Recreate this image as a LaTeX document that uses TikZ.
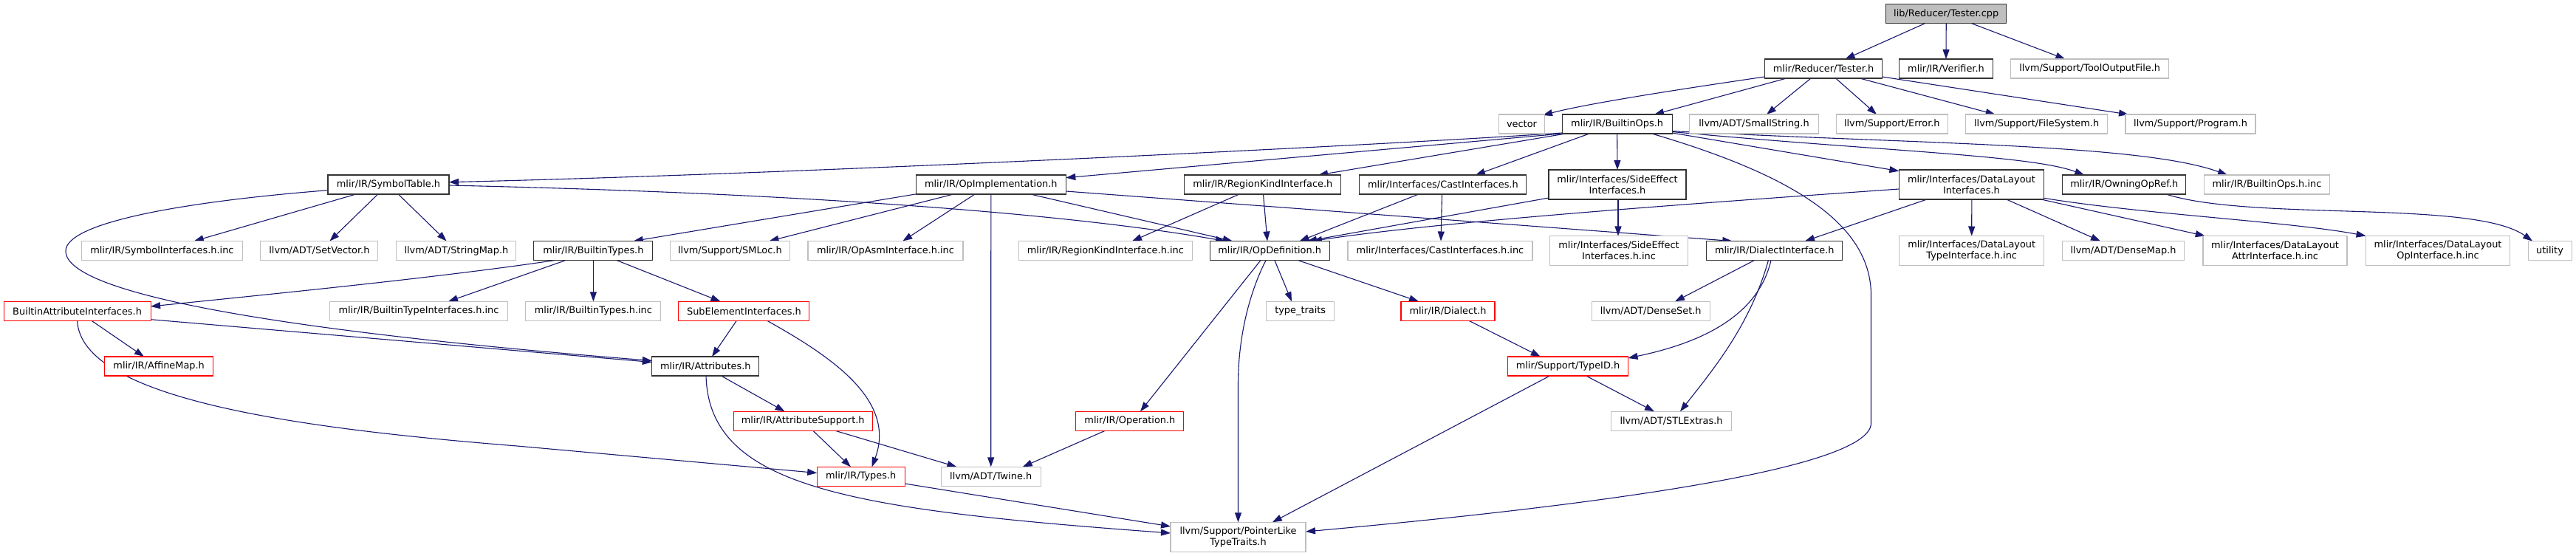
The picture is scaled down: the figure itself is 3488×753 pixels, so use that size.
\documentclass[tikz,border=0pt]{standalone}
\usepackage{fontspec}
\setmainfont{DejaVu Sans}
\usetikzlibrary{arrows.meta,calc}
\definecolor{edgecol}{HTML}{191970}
\definecolor{greyb}{HTML}{BFBFBF}
\definecolor{rootfill}{HTML}{BFBFBF}
\definecolor{boxline}{HTML}{333333}
\pgfdeclarelayer{bg}
\pgfsetlayers{bg,main}
\begin{document}
\begin{tikzpicture}[x=0.5pt,y=-0.5pt,
 box/.style={rectangle, draw=boxline, fill=white, inner sep=0pt, minimum height=13pt, line width=0.55pt, font=\fontsize{6.45}{7.5}\selectfont, align=center, text=black},
 gbox/.style={box, draw=greyb},
 rbox/.style={box, draw=red},
 root/.style={box, fill=rootfill, draw=boxline},
 tall/.style={minimum height=20pt},
 edge/.style={draw=edgecol, line width=0.55pt, -{Triangle[length=6.5pt,width=4.5pt]}}]
\useasboundingbox (0,0) rectangle (3488,753);
% nodes
\node[root, minimum width=81.5pt] (cpp) at (2635.2,18.5) {lib/Reducer/Tester.cpp};
\node[box, minimum width=79.5pt] (testerh) at (2469,93) {mlir/Reducer/Tester.h};
\node[box, minimum width=63.5pt] (verifier) at (2635,93) {mlir/IR/Verifier.h};
\node[gbox, minimum width=107pt] (toolout) at (2829.6,93) {llvm/Support/ToolOutputFile.h};
\node[gbox, minimum width=31pt] (vector) at (2060.5,168) {vector};
\node[box, minimum width=74.5pt] (builtinops) at (2189.6,168) {mlir/IR/BuiltinOps.h};
\node[gbox, minimum width=87.5pt] (smallstring) at (2375,168) {llvm/ADT/SmallString.h};
\node[gbox, minimum width=75.5pt] (error) at (2561.8,168) {llvm/Support/Error.h};
\node[gbox, minimum width=96pt] (filesystem) at (2757.6,168) {llvm/Support/FileSystem.h};
\node[gbox, minimum width=88pt] (program) at (2966,168) {llvm/Support/Program.h};
\node[box, minimum width=82pt] (symtab) at (526,250) {mlir/IR/SymbolTable.h};
\node[box, minimum width=101.5pt] (opimpl) at (1341.8,250) {mlir/IR/OpImplementation.h};
\node[box, minimum width=106pt] (regionkind) at (1709.8,250) {mlir/IR/RegionKindInterface.h};
\node[box, minimum width=113pt] (cast) at (1953.9,250) {mlir/Interfaces/CastInterfaces.h};
\node[box, tall, minimum width=93pt] (sideeffect) at (2190,250) {mlir/Interfaces/SideEffect\\Interfaces.h};
\node[box, tall, minimum width=98pt] (datalayout) at (2669.4,250) {mlir/Interfaces/DataLayout\\Interfaces.h};
\node[box, minimum width=83.5pt] (owning) at (2876.2,250) {mlir/IR/OwningOpRef.h};
\node[gbox, minimum width=85pt] (opsinc) at (3069.4,250) {mlir/IR/BuiltinOps.h.inc};
\node[gbox, minimum width=109pt] (symif) at (219.4,339.5) {mlir/IR/SymbolInterfaces.h.inc};
\node[gbox, minimum width=79.5pt] (setvector) at (432.4,339.5) {llvm/ADT/SetVector.h};
\node[gbox, minimum width=81pt] (stringmap) at (617.9,339.5) {llvm/ADT/StringMap.h};
\node[box, minimum width=80.5pt] (builtintypes) at (803.4,339.5) {mlir/IR/BuiltinTypes.h};
\node[gbox, minimum width=81pt] (smloc) at (988.4,339.5) {llvm/Support/SMLoc.h};
\node[gbox, minimum width=105pt] (opasm) at (1199,339.5) {mlir/IR/OpAsmInterface.h.inc};
\node[gbox, minimum width=117.5pt] (regioninc) at (1496.8,339.5) {mlir/IR/RegionKindInterface.h.inc};
\node[box, minimum width=81pt] (opdef) at (1719.2,339.5) {mlir/IR/OpDefinition.h};
\node[gbox, minimum width=125pt] (castinc) at (1950,339.5) {mlir/Interfaces/CastInterfaces.h.inc};
\node[gbox, tall, minimum width=93.5pt] (sideinc) at (2192,339.5) {mlir/Interfaces/SideEffect\\Interfaces.h.inc};
\node[box, minimum width=92pt] (dialectif) at (2402.8,339.5) {mlir/IR/DialectInterface.h};
\node[gbox, tall, minimum width=98pt] (dltypeinc) at (2669.7,339.5) {mlir/Interfaces/DataLayout\\TypeInterface.h.inc};
\node[gbox, minimum width=82.5pt] (densemap) at (2875,339.5) {llvm/ADT/DenseMap.h};
\node[gbox, tall, minimum width=97.5pt] (dlattrinc) at (3080.5,339.5) {mlir/Interfaces/DataLayout\\AttrInterface.h.inc};
\node[gbox, tall, minimum width=97.5pt] (dlopinc) at (3301,339.5) {mlir/Interfaces/DataLayout\\OpInterface.h.inc};
\node[gbox, minimum width=29.5pt] (utility) at (3452.5,339.5) {utility};
\node[rbox, minimum width=99.5pt] (bai) at (104.6,421.3) {BuiltinAttributeInterfaces.h};
\node[gbox, minimum width=120.5pt] (btifinc) at (567,421.3) {mlir/IR/BuiltinTypeInterfaces.h.inc};
\node[gbox, minimum width=91.5pt] (btinc) at (803.4,421.3) {mlir/IR/BuiltinTypes.h.inc};
\node[rbox, minimum width=88.5pt] (subel) at (1007.4,421.3) {SubElementInterfaces.h};
\node[gbox, minimum width=46pt] (typetraits) at (1760.7,421.3) {type\_traits};
\node[rbox, minimum width=63.5pt] (dialect) at (1960.5,421.3) {mlir/IR/Dialect.h};
\node[gbox, minimum width=80pt] (denseset) at (2235.2,421.3) {llvm/ADT/DenseSet.h};
\node[rbox, minimum width=73.5pt] (affine) at (215.2,496) {mlir/IR/AffineMap.h};
\node[box, minimum width=72.5pt] (attributes) at (955.3,496) {mlir/IR/Attributes.h};
\node[rbox, minimum width=81.5pt] (typeid) at (2123,496) {mlir/Support/TypeID.h};
\node[rbox, minimum width=94pt] (attrsupport) at (1087.2,570.3) {mlir/IR/AttributeSupport.h};
\node[rbox, minimum width=73pt] (operation) at (1529.9,570.3) {mlir/IR/Operation.h};
\node[gbox, minimum width=81.5pt] (stlextras) at (2263,570.3) {llvm/ADT/STLExtras.h};
\node[rbox, minimum width=59.5pt] (types) at (1165.7,645.3) {mlir/IR/Types.h};
\node[gbox, minimum width=67.5pt] (twine) at (1341.7,645.3) {llvm/ADT/Twine.h};
\node[gbox, tall, minimum width=91.5pt] (ptrlike) at (1676.5,727.3) {llvm/Support/PointerLike\\TypeTraits.h};
% edges
\begin{pgfonlayer}{bg}
\fill[white] (0,0) rectangle (3488,753);
\draw[edge] ($(cpp)+(-28.3,13)$) -- ($(testerh)+(29.5,-13)$);
\draw[edge] ($(cpp)+(0,13)$) -- ($(verifier)+(0,-13)$);
\draw[edge] ($(cpp)+(33.8,13)$) -- ($(toolout)+(-33.3,-13)$);
\draw[edge] ($(testerh)+(-79.5,11)$) .. controls (2280,120) and (2150,140) .. ($(vector)+(28.5,-12)$);
\draw[edge] ($(testerh)+(-50,13)$) -- ($(builtinops)+(50.4,-13)$);
\draw[edge] ($(testerh)+(-17,13)$) -- ($(smallstring)+(17,-13)$);
\draw[edge] ($(testerh)+(16.6,13)$) -- ($(error)+(-20.8,-13)$);
\draw[edge] ($(testerh)+(49,13)$) -- ($(filesystem)+(-56,-13)$);
\draw[edge] ($(testerh)+(79.5,11)$) -- ($(program)+(-84,-13)$);
\draw[edge] ($(builtinops)+(-74.6,12)$) .. controls (1900,195) and (1100,235) .. ($(symtab)+(82,-3.3)$);
\draw[edge] ($(builtinops)+(-74.6,13)$) -- ($(opimpl)+(101.5,-9.3)$);
\draw[edge] ($(builtinops)+(-69.6,13)$) -- ($(regionkind)+(75.2,-13)$);
\draw[edge] ($(builtinops)+(-37.6,13)$) -- ($(cast)+(44,-13)$);
\draw[edge] ($(builtinops)+(0,13)$) -- ($(sideeffect)+(0,-20)$);
\draw[edge] ($(builtinops)+(74.5,12)$) -- ($(datalayout)+(-98,-18.3)$);
\draw[edge] ($(builtinops)+(74.5,10.5)$) .. controls (2550,205) and (2750,210) .. ($(owning)+(-54,-13)$);
\draw[edge] ($(builtinops)+(74.5,9.5)$) .. controls (2600,195) and (2900,195) .. ($(opsinc)+(-53.4,-13)$);
\draw[edge] ($(builtinops)+(47,13)$) .. controls (2420,235) and (2533.5,300) .. (2533.5,400) -- (2533.5,573) .. controls (2533.5,640) and (2100,690) .. ($(ptrlike)+(91.5,-7.3)$);
\draw[edge] ($(symtab)+(-44,13)$) -- ($(symif)+(43.4,-13)$);
\draw[edge] ($(symtab)+(-14.3,13)$) -- ($(setvector)+(14,-13)$);
\draw[edge] ($(symtab)+(13.3,13)$) -- ($(stringmap)+(-13.3,-13)$);
\draw[edge] ($(symtab)+(-82,7.7)$) .. controls (260,272) and (89,300) .. (89,340) .. controls (89,400) and (400,450) .. ($(attributes)+(-72.5,-7.5)$);
\draw[edge] ($(symtab)+(82,1)$) .. controls (1100,262) and (1450,290) .. ($(opdef)+(-60.2,-13)$);
\draw[edge] ($(builtintypes)+(-51.7,13)$) .. controls (600,375) and (400,395) .. ($(bai)+(99.5,-6.3)$);
\draw[edge] ($(builtintypes)+(-37.4,13)$) -- ($(btifinc)+(40,-13)$);
\draw[edge] ($(builtintypes)+(0,13)$) -- ($(btinc)+(0,-13)$);
\draw[edge] ($(builtintypes)+(31.5,13)$) -- ($(subel)+(-31.9,-13)$);
\draw[edge] ($(bai)+(19.4,13)$) -- ($(affine)+(-20.2,-13)$);
\draw[edge] ($(bai)+(99.5,11.4)$) -- ($(attributes)+(-72.5,-5.5)$);
\draw[edge] ($(bai)+(0,13)$) .. controls (110,540) and (400,580) .. (700,604) -- ($(types)+(-59.5,-4.8)$);
\draw[edge] ($(subel)+(-10.1,13)$) -- ($(attributes)+(8.7,-13)$);
\draw[edge] ($(subel)+(31.3,13)$) .. controls (1120,480) and (1215,540) .. ($(types)+(14.9,-13)$);
\draw[edge] ($(attributes)+(21.2,13)$) -- ($(attrsupport)+(-24.6,-13)$);
\draw[edge] ($(attributes)+(0.7,13)$) .. controls (960,660) and (1150,690) .. ($(ptrlike)+(-91.5,-5.3)$);
\draw[edge] ($(attrsupport)+(13.7,13)$) -- ($(types)+(-13.7,-13)$);
\draw[edge] ($(attrsupport)+(43.7,13)$) -- ($(twine)+(-46.3,-13)$);
\draw[edge] ($(operation)+(-33.6,13)$) -- ($(twine)+(43,-13)$);
\draw[edge] ($(opimpl)+(0,13)$) -- ($(twine)+(0,-13)$);
\draw[edge] ($(types)+(59.5,9.7)$) -- ($(ptrlike)+(-91.5,-14.3)$);
\draw[edge] ($(opdef)+(-5.2,13)$) .. controls (1690,400) and (1676.5,460) .. (1676.5,520) -- ($(ptrlike)+(0,-20)$);
\draw[edge] ($(opdef)+(-12.2,13)$) -- ($(operation)+(14.1,-13)$);
\draw[edge] ($(opdef)+(6.7,13)$) -- ($(typetraits)+(-11.7,-13)$);
\draw[edge] ($(opdef)+(38.3,13)$) -- ($(dialect)+(-39.5,-13)$);
\draw[edge] ($(dialect)+(28.5,13)$) -- ($(typeid)+(-37.2,-13)$);
\draw[edge] ($(dialectif)+(-27.3,13)$) -- ($(denseset)+(32.8,-13)$);
\draw[edge] ($(dialectif)+(-4.8,13)$) .. controls (2380,430) and (2300,465) .. ($(typeid)+(81.5,-11)$);
\draw[edge] ($(dialectif)+(-8.4,13)$) .. controls (2370,440) and (2320,500) .. ($(stlextras)+(12,-13)$);
\draw[edge] ($(typeid)+(24.6,13)$) -- ($(stlextras)+(-23,-13)$);
\draw[edge] ($(typeid)+(-24.5,13)$) -- ($(ptrlike)+(46.3,-20)$);
\draw[edge] ($(regionkind)+(-31.8,13)$) -- ($(regioninc)+(36.2,-13)$);
\draw[edge] ($(regionkind)+(0.7,13)$) -- ($(opdef)+(-3.2,-13)$);
\draw[edge] ($(cast)+(-33,13)$) -- ($(opdef)+(40.4,-13)$);
\draw[edge] ($(cast)+(-1.4,13)$) -- ($(castinc)+(1,-13)$);
\draw[edge] ($(sideeffect)+(-93,18)$) -- ($(opdef)+(50.8,-13)$);
\draw[edge] ($(sideeffect)+(1,20)$) -- ($(sideinc)+(-1,-20)$);
\draw[edge] ($(datalayout)+(-98,6)$) .. controls (2300,275) and (1950,300) .. ($(opdef)+(57.8,-13)$);
\draw[edge] ($(datalayout)+(-60.4,20)$) -- ($(dialectif)+(41.2,-13)$);
\draw[edge] ($(datalayout)+(0.4,20)$) -- ($(dltypeinc)+(0,-20)$);
\draw[edge] ($(datalayout)+(47.3,20)$) -- ($(densemap)+(-31,-13)$);
\draw[edge] ($(datalayout)+(94.3,20)$) -- ($(dlattrinc)+(-94.8,-20)$);
\draw[edge] ($(datalayout)+(98,18.3)$) .. controls (2900,290) and (3100,300) .. ($(dlopinc)+(-97.5,-20)$);
\draw[edge] ($(owning)+(56.5,13)$) .. controls (3050,300) and (3350,270) .. ($(utility)+(-23.5,-13)$);
\draw[edge] ($(opimpl)+(-99.4,12.5)$) -- ($(builtintypes)+(54.4,-13)$);
\draw[edge] ($(opimpl)+(-50.8,13)$) -- ($(smloc)+(53.1,-13)$);
\draw[edge] ($(opimpl)+(-21.8,13)$) -- ($(opasm)+(23.3,-13)$);
\draw[edge] ($(opimpl)+(53.4,13)$) -- ($(opdef)+(-50.4,-13)$);
\draw[edge] ($(opimpl)+(101.5,9)$) -- ($(dialectif)+(-57.5,-13)$);
\end{pgfonlayer}
\end{tikzpicture}
\end{document}
